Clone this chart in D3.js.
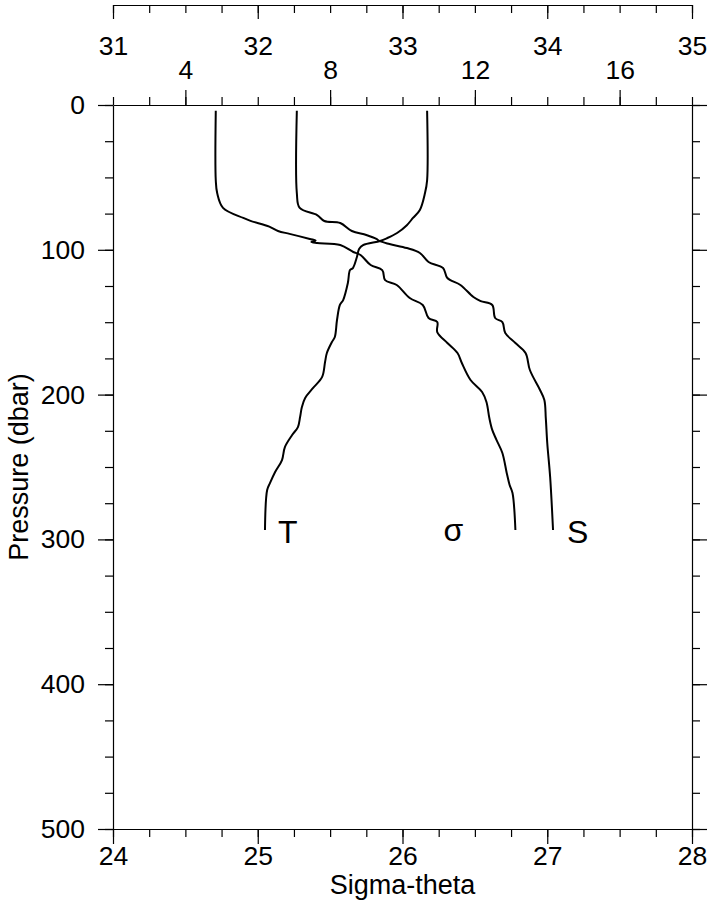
<!DOCTYPE html>
<html>
<head>
<meta charset="utf-8">
<script src="https://cdn.jsdelivr.net/npm/d3@7"></script>
<style>
  html, body { margin: 0; padding: 0; background: #fff; }
  svg { display: block; font-family: "Liberation Sans", Arial, Helvetica, sans-serif; }
  .domain { stroke: #000; stroke-width: 1.2; }
  .tick line { stroke: #000; stroke-width: 1.2; }
  .tick text { fill: #000; font-size: 26.5px; }
</style>
</head>
<body>
<svg id="chart" width="708" height="918"></svg>
<script>
// ---- Data (pressure in dbar) ----
const tempPressure = [4, 52, 61, 72.5, 78, 83, 88.4, 92, 93.9, 96.7, 99.4, 105, 112.6, 114, 122.9, 134.7, 138.1, 148.5, 160.2, 163.7, 171.3, 177.5, 187.8, 195.4, 202.3, 208.6, 215.5, 222.4, 227.9, 236.2, 245.2, 253.5, 261, 265.9, 293.5];
const tempValues   = [10.68, 10.68, 10.62, 10.48, 10.29, 10.12, 9.85, 9.57, 9.38, 8.91, 8.80, 8.74, 8.63, 8.55, 8.49, 8.36, 8.27, 8.19, 8.13, 8.05, 7.91, 7.86, 7.78, 7.53, 7.31, 7.22, 7.17, 7.11, 6.95, 6.75, 6.67, 6.48, 6.34, 6.26, 6.20];

const salPressure = [4, 60.8, 71.1, 76, 80.1, 81.5, 87, 89.8, 92.5, 93.9, 96, 98.8, 102.2, 108.4, 112.6, 119.5, 124.3, 132.6, 135.4, 138.1, 147.1, 149.9, 157.5, 164.4, 171.3, 183, 196.8, 203.7, 216.2, 233.4, 256.9, 293.5];
const salValues   = [32.27, 32.27, 32.29, 32.41, 32.46, 32.57, 32.65, 32.75, 32.82, 32.84, 32.91, 33.03, 33.12, 33.18, 33.28, 33.31, 33.40, 33.49, 33.54, 33.62, 33.64, 33.69, 33.71, 33.78, 33.85, 33.88, 33.95, 33.98, 33.99, 34.00, 34.02, 34.04];

const sigPressure = [4, 52, 61, 71, 78, 80, 84, 87, 89, 92.5, 93.6, 94.6, 95.3, 96.7, 101.5, 103.6, 110.5, 114, 120.9, 124.3, 133.3, 138.1, 147.1, 149.9, 156.8, 164.4, 171.3, 178.2, 189.9, 198.2, 205.1, 216.2, 224.4, 231.4, 240.3, 254.1, 262.4, 268, 293.5];
const sigValues   = [24.71, 24.71, 24.72, 24.76, 24.90, 24.95, 25.08, 25.14, 25.22, 25.36, 25.40, 25.37, 25.41, 25.57, 25.66, 25.71, 25.78, 25.86, 25.88, 25.96, 26.05, 26.14, 26.18, 26.24, 26.24, 26.31, 26.38, 26.41, 26.47, 26.55, 26.58, 26.60, 26.62, 26.65, 26.69, 26.72, 26.74, 26.76, 26.78];

const sigmaTicks = [24, 25, 26, 27, 28];
const pressureTicks = [0, 100, 200, 300, 400, 500];
const salinityTicks = [31, 32, 33, 34, 35];
const tempTicks = [4, 8, 12, 16];

// ---- Layout ----
const L = 113, R = 692, T = 105, B = 829;
const svg = d3.select("#chart");

const x = d3.scaleLinear().domain([24, 28]).range([L, R]);
const y = d3.scaleLinear().domain([0, 500]).range([T, B]);
const xS = d3.scaleLinear().domain([31, 35]).range([L, R]);
const xT = d3.scaleLinear().domain([2, 18]).range([L, R]);

const MAJ = 15, MIN = 8;

function addAxis(axisFn, scale, translate, majors, minors, fmt, pad) {
  svg.append("g").attr("transform", translate)
    .call(axisFn(scale).tickValues(minors).tickSize(MIN).tickSizeOuter(0).tickFormat(""))
    .call(g => g.select(".domain").remove());
  return svg.append("g").attr("transform", translate)
    .call(axisFn(scale).tickValues(majors).tickSize(MAJ).tickSizeOuter(0).tickPadding(pad).tickFormat(fmt));
}

// bottom sigma axis
addAxis(d3.axisBottom, x, `translate(0,${B})`, sigmaTicks, d3.range(24, 28.001, 0.25), d3.format("d"), 2);
// left pressure axis
addAxis(d3.axisLeft, y, `translate(${L},0)`, pressureTicks, d3.range(0, 500.1, 25), d3.format("d"), 13);
// right pressure axis
addAxis(d3.axisRight, y, `translate(${R},0)`, pressureTicks, d3.range(0, 500.1, 25), () => "", 0);
// top temperature axis on plot frame
addAxis(d3.axisTop, xT, `translate(0,${T})`, tempTicks, d3.range(2, 18.001, 1), d3.format("d"), 11);
// top salinity axis (ticks pointing down, labels below)
const sg = addAxis(d3.axisBottom, xS, `translate(0,5)`, salinityTicks, d3.range(31, 35.001, 0.25), d3.format("d"), 0);
sg.selectAll(".tick line").attr("y2", 14);
sg.selectAll(".tick text").attr("y", 50).attr("dy", null);

// ---- Profiles ----
const lineGen = (xs, vals, ps) => d3.line()
  .x((d, i) => xs(vals[i]))
  .y((d, i) => y(ps[i]))
  .curve(d3.curveCatmullRom.alpha(0.5))(ps);

const lines = svg.append("g").attr("fill", "none").attr("stroke", "#000").attr("stroke-width", 2).attr("stroke-linejoin", "round");
lines.append("path").attr("d", lineGen(xT, tempValues, tempPressure));
lines.append("path").attr("d", lineGen(xS, salValues, salPressure));
lines.append("path").attr("d", lineGen(x, sigValues, sigPressure));

// ---- Curve labels ----
const lab = svg.append("g").attr("font-size", 32).attr("fill", "#000");
const pEnd = tempPressure[tempPressure.length - 1];
lab.append("text").attr("x", xT(tempValues[tempValues.length - 1]) + 13).attr("y", y(pEnd) + 13).text("T");
lab.append("text").attr("x", x(sigValues[sigValues.length - 1]) - 72).attr("y", y(pEnd) + 11).text("σ");
lab.append("text").attr("x", xS(salValues[salValues.length - 1]) + 14).attr("y", y(pEnd) + 13).text("S");

// ---- Axis titles ----
svg.append("text").attr("x", (L + R) / 2).attr("y", 894).attr("text-anchor", "middle")
  .attr("font-size", 27).text("Sigma-theta");
svg.append("text").attr("transform", `translate(28,${(T + B) / 2}) rotate(-90)`).attr("text-anchor", "middle")
  .attr("font-size", 27).text("Pressure (dbar)");
</script>
</body>
</html>
